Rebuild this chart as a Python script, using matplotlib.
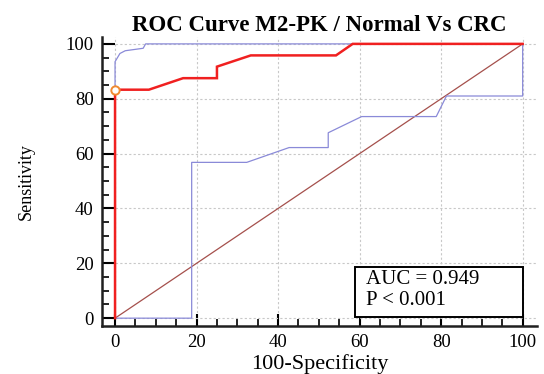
import matplotlib
matplotlib.use("Agg")
import matplotlib.pyplot as plt
from matplotlib.ticker import MultipleLocator
from matplotlib.patches import Rectangle

# ROC curve (100-Specificity, Sensitivity)
roc_x = [0, 0, 8.3, 16.7, 25.0, 25.0, 33.3, 54.2, 58.3, 100]
roc_y = [0, 83.3, 83.3, 87.5, 87.5, 91.7, 95.8, 95.8, 100, 100]

# Upper confidence bound
upper_x = [0, 0, 1.2, 2.5, 6.9, 7.5, 100]
upper_y = [0, 93.5, 96.5, 97.5, 98.4, 100, 100]

# Lower confidence bound
lower_x = [0, 18.8, 18.8, 32.3, 42.7, 52.3, 52.3, 60.5, 78.8, 81.3, 100, 100]
lower_y = [0, 0, 56.8, 56.8, 62.2, 62.2, 67.6, 73.5, 73.5, 81.0, 81.0, 100]

# Diagonal reference line
diag_x = [0, 100]
diag_y = [0, 100]

# Optimal cut-off point
cut_x = [0]
cut_y = [83.3]

ticks = [0, 20, 40, 60, 80, 100]
title = "ROC Curve M2-PK / Normal Vs CRC"
xlabel = "100-Specificity"
ylabel = "Sensitivity"
auc_lines = ["AUC = 0.949", "P < 0.001"]

plt.rcParams['font.family'] = ['Liberation Serif', 'DejaVu Serif']

fig = plt.figure(figsize=(5.44, 3.74), dpi=100)
ax = fig.add_axes([0.1875, 0.128, 0.987 - 0.1875, 0.901 - 0.128])

ax.set_xlim(-3.2, 103.5)
ax.set_ylim(-2.9, 102.5)

ax.grid(True, which='major', color='#c8c8c8', linestyle=(0, (2, 2)), linewidth=0.8)
ax.set_axisbelow(True)

ax.plot(diag_x, diag_y, color='#a5504c', linewidth=0.9, zorder=2)
ax.plot(upper_x, upper_y, color='#8a8ad8', linewidth=0.9, zorder=3)
ax.plot(lower_x, lower_y, color='#8a8ad8', linewidth=0.9, zorder=3)
ax.plot(roc_x, roc_y, color='#f02020', linewidth=1.8, zorder=4, solid_joinstyle='miter')
ax.plot(cut_x, cut_y, linestyle='none', marker='o', markersize=6,
        markerfacecolor='white', markeredgecolor='#f08a30', markeredgewidth=1.4,
        zorder=5, clip_on=False)

ax.set_xticks(ticks)
ax.set_yticks(ticks)
ax.xaxis.set_minor_locator(MultipleLocator(5))
ax.yaxis.set_minor_locator(MultipleLocator(5))
ax.tick_params(which='major', direction='in', length=9, width=1.5, labelsize=13.5, pad=6)
ax.tick_params(which='minor', direction='in', length=5, width=1.2)
ax.tick_params(axis='x', which='both', top=False)
ax.tick_params(axis='y', which='both', right=False)

for side in ['top', 'right']:
    ax.spines[side].set_visible(False)
for side in ['left', 'bottom']:
    ax.spines[side].set_linewidth(1.8)
    ax.spines[side].set_color('#202020')

ax.set_title(title, fontsize=16.5, fontweight='bold', pad=4)
ax.set_xlabel(xlabel, fontsize=16, labelpad=2)
ax.set_ylabel(ylabel, fontsize=13, labelpad=22)

box = Rectangle((0.582, 0.032), 0.968 - 0.582, 0.203 - 0.032, transform=ax.transAxes,
                facecolor='white', edgecolor='black', linewidth=1.4, zorder=6)
ax.add_patch(box)
ax.text(0.607, 0.160, auc_lines[0], transform=ax.transAxes, fontsize=15,
        ha='left', va='center', zorder=7)
ax.text(0.607, 0.088, auc_lines[1], transform=ax.transAxes, fontsize=15,
        ha='left', va='center', zorder=7)

fig.savefig("out.png", dpi=100)
